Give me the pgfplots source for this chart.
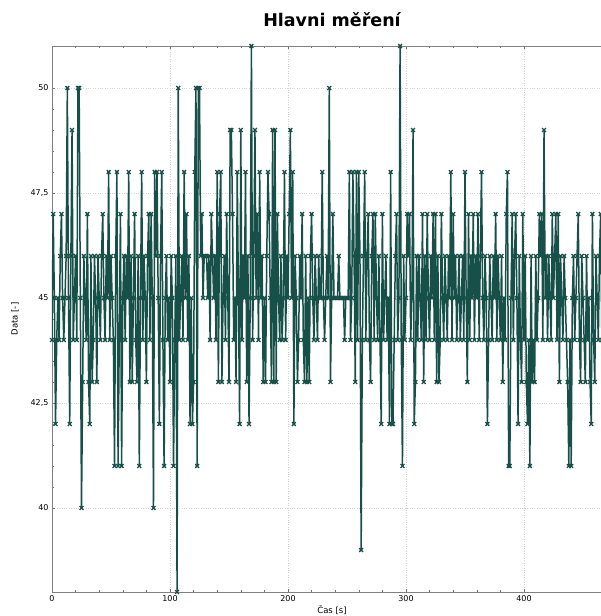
\documentclass[border=0pt]{standalone}
\usepackage{fontspec}
\setmainfont{DejaVu Sans}
\usepackage{pgfplots}
\pgfplotsset{compat=1.18}
\definecolor{serie}{RGB}{22,80,72}
\begin{document}
\begin{tikzpicture}
\path[use as bounding box] (-52pt,-24pt) rectangle (549pt,592pt);
\begin{axis}[
  at={(0,0)}, anchor=south west,
  scale only axis, width=560pt, height=546pt,
  xmin=0, xmax=474.6, ymin=38, ymax=51,
  xtick={0,100,200,300,400}, minor x tick num=4,
  ytick={40,42.5,45,47.5,50}, minor y tick num=4,
  /pgf/number format/use comma,
  /pgf/number format/assume math mode=true,
  tick align=inside, tick pos=both,
  major tick length=3pt, minor tick length=2pt,
  every tick/.style={black!55, line width=0.5pt},
  axis line style={black!50, line width=0.6pt},
  grid=major, major grid style={dotted, black!18, line width=0.5pt},
  ticklabel style={font=\fontsize{8}{9}\selectfont},
  title={Hlavni měření},
  title style={at={(0.5,1)}, anchor=center, yshift=20pt, font=\bfseries\fontsize{17.5}{19}\selectfont},
  xlabel={Čas [s]},
  xlabel style={at={(axis description cs:0.5,0)}, anchor=center, yshift=-18pt, font=\fontsize{8.5}{10}\selectfont},
  ylabel={Data [-]},
  ylabel style={at={(axis description cs:0,0.5)}, anchor=center, yshift=37pt, font=\fontsize{8.5}{10}\selectfont},
]
\addplot[color=serie, line width=1.5pt, mark=x, mark size=2.7pt, mark options={line width=1.3pt}] coordinates {
(0,44)(1,47)(2,45)(3,42)(4,44)(5,45)(6,44)(7,46)(8,47)(9,45)
(10,44)(11,45)(12,46)(13,50)(14,45)(15,42)(16,46)(17,49)(18,44)(19,45)
(20,46)(21,44)(22,50)(23,50)(24,45)(25,40)(26,43)(27,46)(28,45)(29,44)
(30,47)(31,43)(32,42)(33,46)(34,43)(35,44)(36,46)(37,45)(38,43)(39,46)
(40,45)(41,44)(42,46)(43,47)(44,45)(45,44)(46,46)(47,45)(48,48)(49,44)
(50,46)(51,45)(52,44)(53,41)(54,46)(55,48)(56,41)(57,44)(58,47)(59,41)
(60,45)(61,46)(62,44)(63,46)(64,45)(65,48)(66,43)(67,46)(68,43)(69,45)
(70,47)(71,44)(72,43)(73,46)(74,41)(75,45)(76,48)(77,44)(78,46)(79,45)
(80,43)(81,46)(82,47)(83,44)(84,47)(85,45)(86,40)(87,48)(88,46)(89,48)
(90,45)(91,42)(92,46)(93,48)(94,44)(95,41)(96,45)(97,46)(98,44)(99,45)
(100,43)(101,46)(102,45)(103,41)(104,44)(105,46)(106,38)(107,50)(108,44)(109,45)
(110,46)(111,44)(112,48)(113,45)(114,47)(115,44)(116,46)(117,42)(118,45)(119,42)
(120,43)(121,48)(122,50)(123,41)(124,50)(125,50)(126,46)(127,47)(128,45)(129,46)
(130,46)(131,46)(132,45)(133,46)(134,44)(135,47)(136,46)(137,45)(138,46)(139,44)
(140,48)(141,43)(142,47)(143,48)(144,43)(145,45)(146,46)(147,44)(148,47)(149,45)
(150,43)(151,49)(152,49)(153,47)(154,44)(155,45)(156,43)(157,48)(158,45)(159,42)
(160,49)(161,44)(162,46)(163,45)(164,48)(165,43)(166,46)(167,42)(168,45)(169,51)
(170,44)(171,46)(172,49)(173,45)(174,47)(175,44)(176,48)(177,45)(178,46)(179,43)
(180,45)(181,43)(182,46)(183,48)(184,47)(185,45)(186,43)(187,49)(188,43)(189,49)
(190,43)(191,47)(192,45)(193,44)(194,46)(195,44)(196,45)(197,48)(198,44)(199,46)
(200,45)(201,47)(202,49)(203,45)(204,48)(205,42)(206,46)(207,45)(208,43)(209,44)
(210,46)(211,45)(212,47)(213,44)(214,43)(215,46)(216,43)(217,45)(218,43)(219,46)
(220,47)(221,45)(222,44)(223,46)(224,45)(225,44)(226,46)(227,45)(228,45)(229,48)
(230,45)(231,44)(232,45)(233,46)(234,45)(235,50)(236,43)(237,45)(238,47)(239,45)
(240,45)(241,45)(242,45)(243,46)(244,45)(245,45)(246,45)(247,45)(248,44)(249,45)
(250,45)(251,45)(252,48)(253,44)(254,45)(255,48)(256,46)(257,43)(258,48)(259,44)
(260,48)(261,46)(262,39)(263,44)(264,46)(265,48)(266,44)(267,46)(268,47)(269,44)
(270,43)(271,46)(272,47)(273,44)(274,47)(275,45)(276,44)(277,46)(278,44)(279,42)
(280,47)(281,44)(282,45)(283,46)(284,44)(285,45)(286,42)(287,48)(288,42)(289,42)
(290,44)(291,46)(292,47)(293,44)(294,45)(295,51)(296,44)(297,41)(298,46)(299,44)
(300,45)(301,47)(302,46)(303,47)(304,44)(305,45)(306,49)(307,42)(308,43)(309,46)
(310,44)(311,46)(312,45)(313,44)(314,47)(315,43)(316,46)(317,44)(318,47)(319,45)
(320,44)(321,46)(322,45)(323,47)(324,44)(325,47)(326,43)(327,46)(328,43)(329,44)
(330,47)(331,45)(332,44)(333,46)(334,45)(335,44)(336,46)(337,45)(338,48)(339,44)
(340,47)(341,45)(342,46)(343,44)(344,45)(345,46)(346,44)(347,45)(348,46)(349,44)
(350,48)(351,45)(352,43)(353,47)(354,44)(355,46)(356,45)(357,47)(358,44)(359,46)
(360,45)(361,47)(362,44)(363,46)(364,48)(365,45)(366,44)(367,46)(368,45)(369,42)
(370,44)(371,46)(372,45)(373,44)(374,46)(375,45)(376,47)(377,44)(378,46)(379,45)
(380,44)(381,46)(382,43)(383,45)(384,44)(385,47)(386,48)(387,41)(388,41)(389,45)
(390,47)(391,44)(392,46)(393,47)(394,45)(395,42)(396,46)(397,44)(398,43)(399,47)
(400,44)(401,46)(402,43)(403,42)(404,44)(405,41)(406,46)(407,43)(408,44)(409,43)
(410,46)(411,44)(412,45)(413,47)(414,46)(415,47)(416,44)(417,49)(418,45)(419,46)
(420,44)(421,46)(422,45)(423,44)(424,47)(425,45)(426,46)(427,47)(428,44)(429,47)
(430,43)(431,46)(432,45)(433,44)(434,46)(435,45)(436,44)(437,43)(438,41)(439,44)
(440,41)(441,45)(442,46)(443,44)(444,45)(445,46)(446,47)(447,44)(448,43)(449,46)
(450,45)(451,44)(452,43)(453,46)(454,44)(455,45)(456,43)(457,42)(458,47)(459,44)
(460,43)(461,46)(462,45)(463,44)(464,46)(465,47)(466,44)(467,46)(468,45)(469,44)
(470,46)(471,45)(472,44)(473,46)(474,45)
};
\end{axis}
\end{tikzpicture}
\end{document}
